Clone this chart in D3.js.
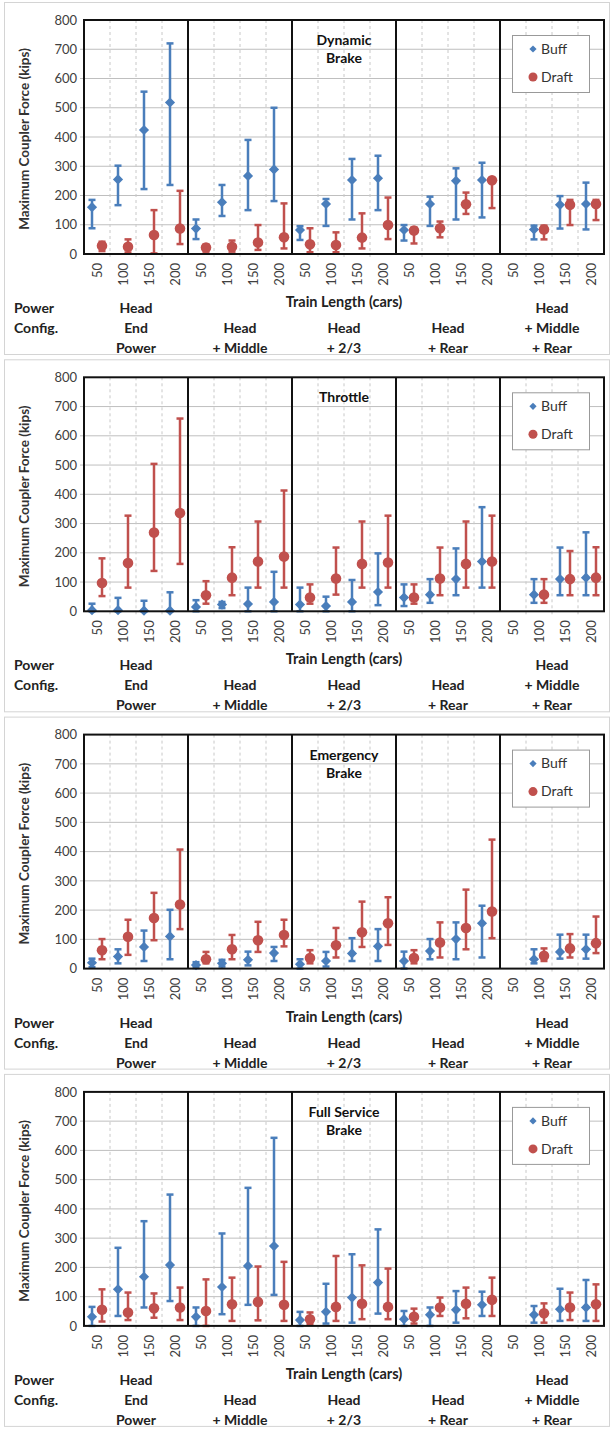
<!DOCTYPE html>
<html>
<head>
<meta charset="utf-8">
<script src="https://cdn.jsdelivr.net/npm/d3@7"></script>
<style>
body { margin: 0; background: #fff; }
svg { display: block; font-family: Lato, "Open Sans", sans-serif; }
</style>
</head>
<body>
<svg></svg>
<script>
var lengths = [50, 100, 150, 200]
var groupLabels = [['Head', 'End', 'Power'], ['Head', '+ Middle'], ['Head', '+ 2/3'], ['Head', '+ Rear'], ['Head', '+ Middle', '+ Rear']]
var panelTitles = [['Dynamic', 'Brake'], ['Throttle'], ['Emergency', 'Brake'], ['Full Service', 'Brake']]
var yTicks = [0, 100, 200, 300, 400, 500, 600, 700, 800]

// each entry: [value, low, high], one per group x length, null = no run
var dynamicBuff = [
	[160, 88, 185], [255, 167, 302], [424, 222, 555], [518, 236, 720],
	[87, 51, 118], [177, 130, 236], [267, 150, 390], [289, 181, 500],
	[82, 48, 95], [171, 96, 188], [253, 118, 325], [259, 150, 336],
	[82, 46, 99], [171, 96, 196], [250, 118, 293], [253, 125, 312],
	null, [84, 50, 97], [168, 87, 198], [171, 84, 244]]
var dynamicDraft = [
	[28, 10, 42], [25, 5, 50], [65, 2, 150], [87, 34, 216],
	[22, 8, 32], [25, 8, 46], [39, 14, 99], [57, 19, 173],
	[33, 6, 88], [31, 6, 74], [56, 19, 139], [99, 51, 193],
	[80, 36, 90], [88, 57, 111], [170, 137, 210], [252, 157, 255],
	null, [84, 50, 97], [168, 99, 185], [171, 116, 185]]
var throttleBuff = [
	[4, 0, 26], [4, 0, 46], [2, 0, 36], [2, 0, 65],
	[15, 0, 38], [23, 11, 32], [25, 0, 81], [32, 0, 135],
	[23, 0, 81], [18, 0, 50], [32, 0, 107], [66, 21, 198],
	[47, 18, 92], [57, 29, 110], [110, 55, 215], [170, 81, 356],
	null, [57, 29, 110], [110, 55, 218], [115, 55, 270]]
var throttleDraft = [
	[97, 52, 181], [165, 81, 327], [269, 138, 504], [336, 162, 659],
	[55, 26, 103], [115, 55, 219], [170, 81, 307], [187, 81, 413],
	[47, 26, 92], [112, 57, 218], [162, 81, 307], [167, 81, 327],
	[47, 26, 92], [112, 55, 218], [162, 81, 307], [170, 81, 327],
	null, [57, 29, 110], [110, 55, 206], [115, 55, 219]]
var emergencyBuff = [
	[20, 5, 34], [41, 18, 66], [74, 26, 130], [110, 32, 201],
	[12, 2, 22], [18, 7, 30], [30, 11, 58], [53, 26, 74],
	[15, 0, 32], [26, 7, 57], [52, 26, 104], [76, 26, 135],
	[26, 0, 58], [60, 32, 101], [101, 32, 158], [155, 38, 215],
	null, [32, 18, 66], [57, 34, 116], [66, 34, 116]]
var emergencyDraft = [
	[63, 32, 101], [109, 47, 167], [173, 97, 259], [219, 135, 407],
	[32, 18, 57], [66, 32, 115], [97, 57, 160], [115, 76, 167],
	[36, 18, 63], [80, 38, 139], [124, 74, 229], [155, 81, 244],
	[36, 18, 63], [89, 38, 158], [139, 66, 270], [195, 104, 441],
	null, [44, 26, 69], [69, 38, 118], [87, 53, 178]]
var fullServiceBuff = [
	[31, 0, 65], [125, 34, 267], [168, 63, 358], [208, 85, 449],
	[31, 0, 63], [133, 40, 316], [205, 72, 472], [273, 106, 643],
	[20, 0, 48], [48, 8, 144], [97, 11, 245], [148, 42, 330],
	[23, 0, 51], [38, 0, 63], [55, 11, 119], [72, 34, 117],
	null, [38, 11, 68], [57, 17, 127], [63, 17, 157]]
var fullServiceDraft = [
	[55, 15, 125], [46, 20, 114], [60, 28, 111], [63, 20, 131],
	[51, 0, 159], [74, 17, 165], [82, 19, 203], [72, 17, 219],
	[23, 6, 46], [65, 17, 239], [76, 23, 207], [65, 23, 196],
	[31, 8, 59], [63, 34, 97], [76, 26, 131], [89, 34, 165],
	null, [43, 11, 77], [63, 20, 114], [74, 17, 142]]

var panels = [
	{title: panelTitles[0], buff: dynamicBuff, draft: dynamicDraft},
	{title: panelTitles[1], buff: throttleBuff, draft: throttleDraft},
	{title: panelTitles[2], buff: emergencyBuff, draft: emergencyDraft},
	{title: panelTitles[3], buff: fullServiceBuff, draft: fullServiceDraft}
]

var width = 613, height = 1429
var blue = '#4a7ebb', red = '#c0504d'
var plotLeft = 84, plotRight = 604, plotH = 234, panelStep = 357.3, firstTop = 20
var labelSize = 14

var svg = d3.select('svg').attr('width', width).attr('height', height)

// category keys: group index + length
var cats = []
groupLabels.forEach(function(g, gi) {
	lengths.forEach(function(l) { cats.push(gi + '_' + l) })
})

var x = d3.scaleBand().domain(cats).range([plotLeft, plotRight]).padding(0)
var y = d3.scaleLinear().domain([0, 800]).range([plotH, 0])
var offset = 5

// diamond = square turned 45 degrees
function marker(shape, size) {
	return d3.symbol().type(shape == 'diamond' ? d3.symbolSquare : d3.symbolCircle).size(size)()
}

panels.forEach(function(p, pi) {
	var top = firstTop + pi * panelStep
	var g = svg.append('g').attr('transform', 'translate(0,' + top + ')')

	// outer frame of the panel
	g.append('rect')
		.attr('x', 4.5).attr('y', -17.5)
		.attr('width', 605).attr('height', 352)
		.attr('fill', 'none').attr('stroke', '#d4d4d4')

	// horizontal grid
	g.append('g')
		.selectAll('line').data(yTicks.slice(1, -1)).enter().append('line')
		.attr('x1', plotLeft - 4).attr('x2', plotRight)
		.attr('y1', function(d) {return y(d)}).attr('y2', function(d) {return y(d)})
		.attr('stroke', '#bfbfbf').attr('stroke-width', 1)

	// dashed category boundaries
	var bounds = cats.slice(1).filter(function(c, i) {return (i + 1) % 4 != 0})
	g.append('g')
		.selectAll('line').data(bounds).enter().append('line')
		.attr('x1', function(d) {return x(d)}).attr('x2', function(d) {return x(d)})
		.attr('y1', 0).attr('y2', plotH + 5)
		.attr('stroke', '#c8c8c8').attr('stroke-dasharray', '3,3')

	// y axis labels
	var yAxis = g.append('g')
		.attr('transform', 'translate(' + (plotLeft - 4) + ',0)')
		.call(d3.axisLeft(y).tickValues(yTicks).tickSize(0).tickPadding(3))
	yAxis.select('.domain').remove()
	yAxis.selectAll('text').attr('font-size', 13).attr('fill', '#404040').attr('font-family', 'Lato, sans-serif')

	g.append('text')
		.attr('transform', 'translate(29,' + (plotH / 2 + 2) + ') rotate(-90)')
		.attr('text-anchor', 'middle')
		.attr('font-size', 13.5).attr('font-weight', 'bold').attr('fill', '#333')
		.text('Maximum Coupler Force  (kips)')

	// x axis labels
	var xAxis = g.append('g')
		.attr('transform', 'translate(0,' + plotH + ')')
		.call(d3.axisBottom(x).tickSize(0).tickFormat(function(d) {return d.split('_')[1]}))
	xAxis.select('.domain').remove()
	xAxis.selectAll('text')
		.attr('transform', 'rotate(-90)')
		.attr('x', -9).attr('y', 0).attr('dy', '0.35em')
		.style('text-anchor', 'end')
		.attr('font-size', 13).attr('fill', '#404040').attr('font-family', 'Lato, sans-serif')

	// error bars and markers
	var series = [
		{data: p.buff, color: blue, dx: -offset, shape: 'diamond', size: 52},
		{data: p.draft, color: red, dx: offset, shape: 'circle', size: 88}
	]
	series.forEach(function(s) {
		var pts = s.data.map(function(d, i) {return {cat: cats[i], v: d}}).filter(function(d) {return d.v})
		var sg = g.append('g')
		var bar = sg.selectAll('g').data(pts).enter().append('g')
			.attr('transform', function(d) {return 'translate(' + (x(d.cat) + x.bandwidth() / 2 + s.dx) + ',0)'})
		bar.append('line')
			.attr('y1', function(d) {return y(d.v[1])}).attr('y2', function(d) {return y(d.v[2])})
			.attr('stroke', s.color).attr('stroke-width', 2.5)
		bar.append('line')
			.attr('x1', -3.5).attr('x2', 3.5)
			.attr('y1', function(d) {return y(d.v[2])}).attr('y2', function(d) {return y(d.v[2])})
			.attr('stroke', s.color).attr('stroke-width', 2.5)
		bar.append('line')
			.attr('x1', -3.5).attr('x2', 3.5)
			.attr('y1', function(d) {return y(d.v[1])}).attr('y2', function(d) {return y(d.v[1])})
			.attr('stroke', s.color).attr('stroke-width', 2.5)
		bar.append('path')
			.attr('d', marker(s.shape, s.size))
			.attr('transform', function(d) {return 'translate(0,' + y(d.v[0]) + ')' + (s.shape == 'diamond' ? ' rotate(45)' : '')})
			.attr('fill', s.color)
	})

	// group dividers and plot frame
	var divs = [1, 2, 3, 4].map(function(i) {return x(cats[i * 4])})
	g.selectAll('.div').data(divs).enter().append('line')
		.attr('x1', function(d) {return d}).attr('x2', function(d) {return d})
		.attr('y1', 0).attr('y2', plotH)
		.attr('stroke', '#111').attr('stroke-width', 2)
	g.append('rect')
		.attr('x', plotLeft).attr('y', 0)
		.attr('width', plotRight - plotLeft).attr('height', plotH)
		.attr('fill', 'none').attr('stroke', '#111').attr('stroke-width', 2)

	// panel title
	var tx = x(cats[8]) + 2 * x.bandwidth()
	g.append('text')
		.attr('x', tx).attr('y', 25)
		.attr('text-anchor', 'middle').attr('font-size', labelSize).attr('font-weight', 'bold').attr('fill', '#111')
		.selectAll('tspan').data(p.title).enter().append('tspan')
		.attr('x', tx).attr('dy', function(d, i) {return i == 0 ? 0 : 18})
		.text(function(d) {return d})

	// legend
	var lg = g.append('g').attr('transform', 'translate(512,15)')
	lg.append('rect')
		.attr('x', 0.5).attr('y', 0.5).attr('width', 77).attr('height', 57)
		.attr('fill', '#fff').attr('stroke', '#999')
	var items = [{name: 'Buff', color: blue, shape: 'diamond', size: 26}, {name: 'Draft', color: red, shape: 'circle', size: 64}]
	items.forEach(function(it, i) {
		var ly = 14 + i * 28
		lg.append('path')
			.attr('d', marker(it.shape, it.size))
			.attr('transform', 'translate(21,' + ly + ')' + (it.shape == 'diamond' ? ' rotate(45)' : ''))
			.attr('fill', it.color)
		lg.append('text')
			.attr('x', 29).attr('y', ly).attr('dy', '0.35em')
			.attr('font-size', 14).attr('fill', '#333')
			.text(it.name)
	})

	// x title and power config labels
	g.append('text')
		.attr('x', x(cats[8]) + 2 * x.bandwidth()).attr('y', plotH + 53)
		.attr('text-anchor', 'middle').attr('font-size', labelSize + 0.5).attr('font-weight', 'bold').attr('fill', '#222')
		.text('Train Length (cars)')
	g.append('text').attr('x', 14).attr('y', plotH + 59)
		.attr('font-size', labelSize).attr('font-weight', 'bold').attr('fill', '#222').text('Power')
	g.append('text').attr('x', 14).attr('y', plotH + 79)
		.attr('font-size', labelSize).attr('font-weight', 'bold').attr('fill', '#222').text('Config.')
	groupLabels.forEach(function(lines, gi) {
		var cx = x(cats[gi * 4]) + 2 * x.bandwidth()
		var start = 3 - lines.length
		lines.forEach(function(t, li) {
			g.append('text')
				.attr('x', cx).attr('y', plotH + 59 + (start + li) * 20)
				.attr('text-anchor', 'middle').attr('font-size', labelSize).attr('font-weight', 'bold').attr('fill', '#222')
				.text(t)
		})
	})
})
</script>
</body>
</html>
